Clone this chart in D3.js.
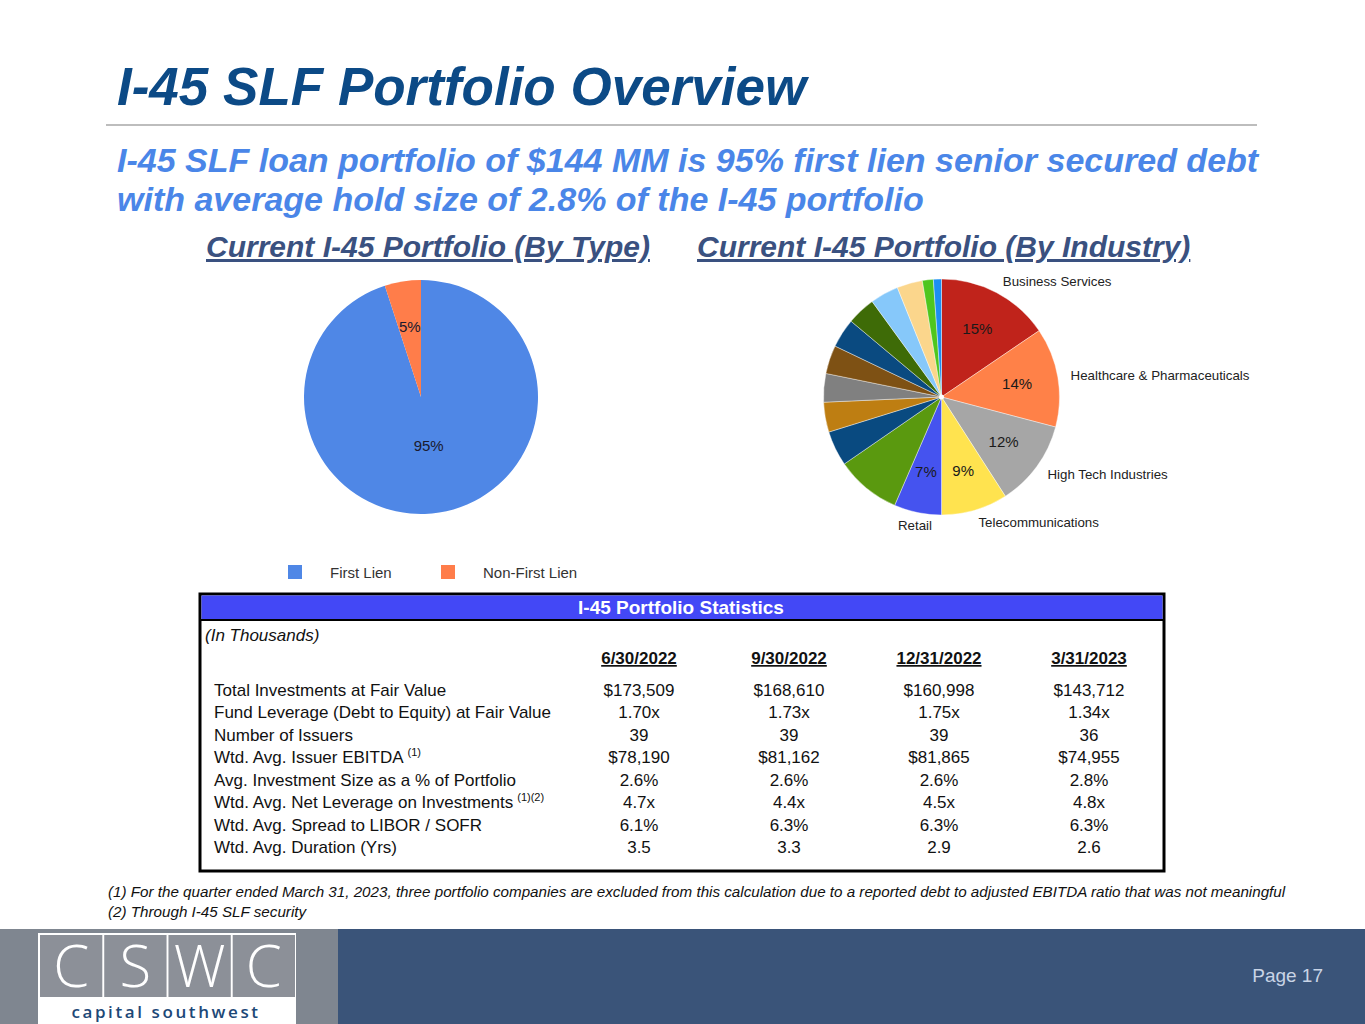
<!DOCTYPE html>
<html>
<head>
<meta charset="utf-8">
<script src="https://cdn.jsdelivr.net/npm/d3@7"></script>
<style>
  body { margin: 0; background: #fff; }
  svg { display: block; font-family: "Liberation Sans", Arial, sans-serif; }
</style>
</head>
<body>
<svg id="chart" width="1365" height="1024"></svg>
<script>
// ---- data ----
const typeCategories = ["First Lien", "Non-First Lien"];
const typeValues = [95, 5];
const typeLabels = ["95%", "5%"];
const typeColors = ["#4f87e6", "#ff7d4a"];

const industryNames = ["Business Services", "Healthcare & Pharmaceuticals", "High Tech Industries",
  "Telecommunications", "Retail", "", "", "", "", "", "", "", "", "", "", ""];
const industryValues = [15.5, 13.6, 11.8, 9.1, 6.5, 8.9, 4.8, 4.1, 3.9, 3.9, 4.0, 3.9, 3.9, 3.5, 1.5, 1.1];
const industryLabels = ["15%", "14%", "12%", "9%", "7%", "", "", "", "", "", "", "", "", "", "", ""];
const industryColors = ["#c0231b", "#ff8148", "#a6a6a6", "#ffe34f", "#4553ef", "#5a990f", "#094a80",
  "#be7e12", "#808080", "#7e5114", "#0a4a80", "#3e6b07", "#86c8fa", "#fbd68c", "#4fc61e", "#1d8ff1"];

const periods = ["6/30/2022", "9/30/2022", "12/31/2022", "3/31/2023"];
const statRows = ["Total Investments at Fair Value", "Fund Leverage (Debt to Equity) at Fair Value",
  "Number of Issuers", "Wtd. Avg. Issuer EBITDA", "Avg. Investment Size as a % of Portfolio",
  "Wtd. Avg. Net Leverage on Investments", "Wtd. Avg. Spread to LIBOR / SOFR", "Wtd. Avg. Duration (Yrs)"];
const statNotes = ["", "", "", "(1)", "", "(1)(2)", "", ""];
const stats0622 = ["$173,509", "1.70x", "39", "$78,190", "2.6%", "4.7x", "6.1%", "3.5"];
const stats0922 = ["$168,610", "1.73x", "39", "$81,162", "2.6%", "4.4x", "6.3%", "3.3"];
const stats1222 = ["$160,998", "1.75x", "39", "$81,865", "2.6%", "4.5x", "6.3%", "2.9"];
const stats0323 = ["$143,712", "1.34x", "36", "$74,955", "2.8%", "4.8x", "6.3%", "2.6"];
const statColumns = [stats0622, stats0922, stats1222, stats0323];

const footnotes = [
  "(1) For the quarter ended March 31, 2023, three portfolio companies are excluded from this calculation due to a reported debt to adjusted EBITDA ratio that was not meaningful",
  "(2) Through I-45 SLF security"
];
const logoLetters = ["C", "S", "W", "C"];

const svg = d3.select("#chart");

// ---- titles ----
svg.append("text")
  .attr("x", 117).attr("y", 105)
  .attr("font-size", 53).attr("font-weight", "bold").attr("font-style", "italic")
  .attr("fill", "#0c4a86")
  .text("I-45 SLF Portfolio Overview");

svg.append("line")
  .attr("x1", 106).attr("x2", 1257).attr("y1", 125).attr("y2", 125)
  .attr("stroke", "#bdbdbd").attr("stroke-width", 2);

const sub = svg.append("g")
  .attr("font-size", 34).attr("font-weight", "bold").attr("font-style", "italic")
  .attr("fill", "#4a86e8");
sub.append("text").attr("x", 117).attr("y", 172)
  .text("I-45 SLF loan portfolio of $144 MM is 95% first lien senior secured debt");
sub.append("text").attr("x", 117).attr("y", 211)
  .text("with average hold size of 2.8% of the I-45 portfolio");

const heads = svg.append("g")
  .attr("font-size", 30).attr("font-weight", "bold").attr("font-style", "italic")
  .attr("fill", "#3a5180").attr("text-decoration", "underline");
heads.append("text").attr("x", 206).attr("y", 257).text("Current I-45 Portfolio (By Type)");
heads.append("text").attr("x", 697).attr("y", 257).text("Current I-45 Portfolio (By Industry)");

// ---- pie: by type ----
const pie = d3.pie().sort(null).value(d => d);

const typeR = 117;
const gType = svg.append("g").attr("transform", "translate(421,397)");
const typeArc = d3.arc().innerRadius(0).outerRadius(typeR);
const typeArcs = pie(typeValues);
gType.selectAll("path").data(typeArcs).join("path")
  .attr("d", typeArc)
  .attr("fill", (d, i) => typeColors[i]);

// label radius differs: big slice label sits near the middle, small one further out
const typeLabelR = [0.42, 0.61];
gType.selectAll("text").data(typeArcs).join("text")
  .attr("transform", (d, i) => {
    const a = (d.startAngle + d.endAngle) / 2, rr = typeR * typeLabelR[i];
    return `translate(${Math.sin(a) * rr},${-Math.cos(a) * rr})`;
  })
  .attr("text-anchor", "middle").attr("dy", "0.35em")
  .attr("font-size", 15).attr("fill", "#1a1a2e")
  .text((d, i) => typeLabels[i]);

const legend = svg.append("g").attr("font-size", 15).attr("fill", "#333");
const legX = d3.scalePoint().domain(typeCategories).range([288, 441]);
typeCategories.forEach((c, i) => {
  legend.append("rect").attr("x", legX(c)).attr("y", 565).attr("width", 14).attr("height", 14)
    .attr("fill", typeColors[i]);
  legend.append("text").attr("x", legX(c) + 42).attr("y", 578).text(c);
});

// ---- pie: by industry ----
const indR = 118;
const gInd = svg.append("g").attr("transform", "translate(941.5,397)");
const indArc = d3.arc().innerRadius(0).outerRadius(indR);
const indArcs = pie(industryValues);
gInd.selectAll("path").data(indArcs).join("path")
  .attr("d", indArc)
  .attr("fill", (d, i) => industryColors[i])
  .attr("stroke", "#fff").attr("stroke-width", 0.4);
gInd.append("circle").attr("r", 2.5).attr("fill", "#fff");

const inLabelArc = d3.arc().innerRadius(indR * 0.65).outerRadius(indR * 0.65);
gInd.selectAll("text.pct").data(indArcs).join("text")
  .attr("class", "pct")
  .attr("transform", d => `translate(${inLabelArc.centroid(d)})`)
  .attr("text-anchor", "middle").attr("dy", "0.35em")
  .attr("font-size", 15).attr("fill", "#1a1a1a")
  .text((d, i) => industryLabels[i]);

const outLabelArc = d3.arc().innerRadius(131).outerRadius(131);
gInd.selectAll("text.name").data(indArcs.filter((d, i) => industryNames[i]))
  .join("text")
  .attr("class", "name")
  .attr("transform", d => `translate(${outLabelArc.centroid(d)})`)
  .attr("text-anchor", d => (d.startAngle + d.endAngle) / 2 < Math.PI ? "start" : "middle")
  .attr("dy", "0.35em")
  .attr("font-size", 13.3).attr("fill", "#222")
  .text(d => industryNames[d.index]);

// ---- statistics table ----
const tbl = svg.append("g");
tbl.append("rect").attr("x", 200).attr("y", 594).attr("width", 964).attr("height", 277)
  .attr("fill", "#fff").attr("stroke", "#000").attr("stroke-width", 3);
tbl.append("rect").attr("x", 201.5).attr("y", 595.5).attr("width", 961).attr("height", 24)
  .attr("fill", "#4348f6");
tbl.append("line").attr("x1", 200).attr("x2", 1164).attr("y1", 620).attr("y2", 620)
  .attr("stroke", "#000").attr("stroke-width", 2);
tbl.append("text").attr("x", 681).attr("y", 614).attr("text-anchor", "middle")
  .attr("font-size", 19).attr("font-weight", "bold").attr("fill", "#fff")
  .text("I-45 Portfolio Statistics");
tbl.append("text").attr("x", 205).attr("y", 641)
  .attr("font-size", 17).attr("font-style", "italic").attr("fill", "#111")
  .text("(In Thousands)");

const colX = d3.scalePoint().domain(periods).range([639, 1089]);
const rowY = d3.scalePoint().domain(statRows).range([696, 853]);

tbl.selectAll("text.period").data(periods).join("text")
  .attr("class", "period")
  .attr("x", d => colX(d)).attr("y", 664).attr("text-anchor", "middle")
  .attr("font-size", 17).attr("font-weight", "bold").attr("fill", "#111")
  .attr("text-decoration", "underline")
  .text(d => d);

const rowLabels = tbl.selectAll("text.row").data(statRows).join("text")
  .attr("class", "row")
  .attr("x", 214).attr("y", d => rowY(d))
  .attr("font-size", 17).attr("fill", "#111")
  .text(d => d);
rowLabels.append("tspan")
  .attr("dx", 4).attr("dy", -7).attr("font-size", 11)
  .text((d, i) => statNotes[i]);

periods.forEach((p, j) => {
  tbl.selectAll(null).data(statColumns[j]).join("text")
    .attr("x", colX(p)).attr("y", (d, i) => rowY(statRows[i]))
    .attr("text-anchor", "middle")
    .attr("font-size", 17).attr("fill", "#111")
    .text(d => d);
});

svg.append("g").attr("font-size", 15.2).attr("font-style", "italic").attr("fill", "#111")
  .selectAll("text").data(footnotes).join("text")
  .attr("x", 108).attr("y", (d, i) => 897 + i * 20)
  .text(d => d);

// ---- footer band and logo ----
svg.append("rect").attr("x", 0).attr("y", 929).attr("width", 338).attr("height", 95).attr("fill", "#7f8690");
svg.append("rect").attr("x", 338).attr("y", 929).attr("width", 1027).attr("height", 95).attr("fill", "#3a5479");
svg.append("text").attr("x", 1323).attr("y", 982).attr("text-anchor", "end")
  .attr("font-size", 19).attr("fill", "#c9d4e6").text("Page 17");

const logo = svg.append("g");
logo.append("rect").attr("x", 38).attr("y", 933).attr("width", 258).attr("height", 91).attr("fill", "#fff");
const logoX = d3.scaleBand().domain(d3.range(logoLetters.length)).range([40, 295]).paddingInner(0.03);
logo.selectAll("rect.box").data(logoLetters).join("rect")
  .attr("class", "box")
  .attr("x", (d, i) => logoX(i)).attr("y", 935)
  .attr("width", logoX.bandwidth()).attr("height", 62)
  .attr("fill", "#8c9098");
logo.selectAll("text.let").data(logoLetters).join("text")
  .attr("class", "let")
  .attr("x", (d, i) => logoX(i) + logoX.bandwidth() / 2).attr("y", 987)
  .attr("text-anchor", "middle")
  .attr("font-family", "'Open Sans', sans-serif").attr("font-weight", 300)
  .attr("font-size", 58).attr("fill", "#fff")
  .text(d => d);
logo.append("text").attr("x", 166).attr("y", 1018).attr("text-anchor", "middle")
  .attr("font-family", "'Open Sans', sans-serif").attr("font-weight", 600)
  .attr("font-size", 17).attr("letter-spacing", 2.6).attr("fill", "#1d4877")
  .text("capital southwest");
</script>
</body>
</html>
